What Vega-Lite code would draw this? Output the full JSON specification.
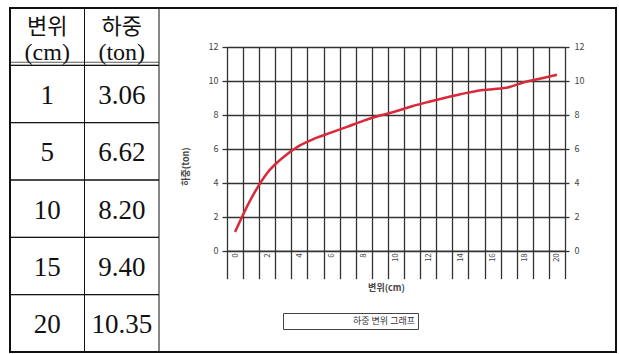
{
  "$schema": "https://vega.github.io/schema/vega-lite/v6.json",
  "width": 606,
  "height": 344,
  "autosize": "none",
  "padding": {"left": 10, "top": 8, "right": 3, "bottom": 2},
  "background": "white",
  "config": {
    "view": {"stroke": "#111", "strokeWidth": 2},
    "axis": {"labelFont": "Noto Sans CJK KR", "titleFont": "Noto Sans CJK KR"},
    "legend": {"labelFont": "Noto Sans CJK KR"}
  },
  "layer": [
    {
      "data": {"values": [
        {"r": "h", "c": "a", "t": "변위", "u": "(cm)"},
        {"r": "h", "c": "b", "t": "하중", "u": "(ton)"},
        {"r": "1", "c": "a", "t": "1"}, {"r": "1", "c": "b", "t": "3.06"},
        {"r": "5", "c": "a", "t": "5"}, {"r": "5", "c": "b", "t": "6.62"},
        {"r": "10", "c": "a", "t": "10"}, {"r": "10", "c": "b", "t": "8.20"},
        {"r": "15", "c": "a", "t": "15"}, {"r": "15", "c": "b", "t": "9.40"},
        {"r": "20", "c": "a", "t": "20"}, {"r": "20", "c": "b", "t": "10.35"}
      ]},
      "encoding": {
        "x": {"field": "c", "type": "nominal", "axis": null,
              "scale": {"type": "band", "domain": ["a", "b"], "range": [0, 149], "paddingInner": 0, "paddingOuter": 0}},
        "y": {"field": "r", "type": "nominal", "axis": null,
              "scale": {"type": "band", "domain": ["h", "1", "5", "10", "15", "20"], "range": [0, 344], "paddingInner": 0, "paddingOuter": 0}}
      },
      "layer": [
        {"mark": {"type": "rect", "fill": "white", "fillOpacity": 0, "stroke": "#111", "strokeWidth": 1}},
        {"transform": [{"filter": "datum.r === 'h'"}],
         "mark": {"type": "tick", "orient": "horizontal", "color": "#111", "thickness": 1, "size": 74.5, "yOffset": -3},
         "encoding": {"y": {"field": "r", "type": "nominal", "bandPosition": 1}}},
        {"transform": [{"filter": "datum.r !== 'h'"}],
         "mark": {"type": "text", "font": "Liberation Serif", "fontSize": 27, "color": "#111", "dy": 2},
         "encoding": {"text": {"field": "t"}}},
        {"transform": [{"filter": "datum.r === 'h'"}],
         "mark": {"type": "text", "font": "Noto Sans CJK KR", "fontSize": 22, "color": "#111", "dy": -10},
         "encoding": {"text": {"field": "t"}}},
        {"transform": [{"filter": "datum.r === 'h'"}],
         "mark": {"type": "text", "font": "Liberation Serif", "fontSize": 24, "color": "#111", "dy": 16},
         "encoding": {"text": {"field": "u"}}}
      ]
    },
    {
      "data": {"values": [
        {"d": 0, "w": 1.1}, {"d": 1, "w": 3.06}, {"d": 2, "w": 4.57}, {"d": 3, "w": 5.5},
        {"d": 4, "w": 6.18}, {"d": 5, "w": 6.62}, {"d": 6, "w": 6.96}, {"d": 7, "w": 7.3},
        {"d": 8, "w": 7.65}, {"d": 9, "w": 7.95}, {"d": 10, "w": 8.2}, {"d": 11, "w": 8.5},
        {"d": 12, "w": 8.75}, {"d": 13, "w": 8.98}, {"d": 14, "w": 9.2}, {"d": 15, "w": 9.4},
        {"d": 16, "w": 9.5}, {"d": 17, "w": 9.62}, {"d": 18, "w": 9.92}, {"d": 19, "w": 10.13},
        {"d": 20, "w": 10.35}
      ]},
      "encoding": {
        "x": {"field": "d", "type": "quantitative",
              "scale": {"domain": [-0.5, 20.5], "range": [217, 555], "nice": false, "zero": false}},
        "y": {"field": "w", "type": "quantitative",
              "scale": {"domain": [0, 12], "range": [242.7, 38.7], "nice": false, "zero": false}}
      },
      "layer": [
        {"mark": {"type": "line", "strokeWidth": 2.5, "interpolate": "monotone"},
         "encoding": {
           "x": {"field": "d", "type": "quantitative",
                 "axis": {
                   "orient": "bottom",
                   "values": [-0.5, 0.5, 1.5, 2.5, 3.5, 4.5, 5.5, 6.5, 7.5, 8.5, 9.5, 10.5, 11.5, 12.5, 13.5, 14.5, 15.5, 16.5, 17.5, 18.5, 19.5, 20.5],
                   "offset": -101.3,
                   "grid": false,
                   "domainColor": "#333", "tickColor": "#333", "tickSize": 28, "tickWidth": 1.3,
                   "labelExpr": "(datum.value + 0.5) % 2 === 0 ? format(datum.value + 0.5, 'd') : ''",
                   "labelOffset": 8, "labelAngle": -90, "labelPadding": -26, "labelFontSize": 8,
                   "labelColor": "#444", "labelOverlap": false, "labelFlush": false, "labelBound": false,
                   "title": "변위(cm)", "titleFontSize": 9, "titleFontWeight": "bold", "titleColor": "#444",
                   "titlePadding": 4, "titleX": 376
                 }},
           "color": {"datum": "하중 변위 그래프", "scale": {"range": ["#d82a3a"]},
                     "legend": {"orient": "none", "legendX": 273, "legendY": 305, "title": null,
                                "symbolType": "M-1,-0.04H1V0.04H-1Z", "symbolSize": 38416,
                                "symbolOpacity": 0, "symbolStrokeWidth": 0, "clipHeight": 10,
                                "labelFontSize": 9, "labelColor": "#333", "labelAlign": "right",
                                "labelOffset": -67, "labelLimit": 400,
                                "strokeColor": "#444", "padding": 3, "fillColor": "white"}},
           "y": {"field": "w", "type": "quantitative",
                 "axis": {"orient": "left", "offset": -217, "values": [0, 2, 4, 6, 8, 10, 12],
                          "grid": true, "gridColor": "#333", "gridWidth": 1.3,
                          "domainColor": "#333", "tickColor": "#333", "tickSize": 5, "tickWidth": 1.3,
                          "labelFontSize": 9, "labelColor": "#444", "labelPadding": 4,
                          "title": "하중(ton)", "titleFontSize": 9, "titleColor": "#444",
                          "titlePadding": 18, "titleY": 158}}
         }},
        {"mark": {"type": "point", "opacity": 0},
         "encoding": {
           "x": {"field": "d", "type": "quantitative",
                 "axis": {
                   "orient": "top",
                   "values": [-0.5, 0.5, 1.5, 2.5, 3.5, 4.5, 5.5, 6.5, 7.5, 8.5, 9.5, 10.5, 11.5, 12.5, 13.5, 14.5, 15.5, 16.5, 17.5, 18.5, 19.5, 20.5],
                   "offset": -38.7, "grid": false, "domain": false, "labels": false, "title": null,
                   "tickColor": "#333", "tickSize": -204, "tickWidth": 1.3
                 }},
           "y": {"field": "w", "type": "quantitative",
                 "axis": {"orient": "right", "offset": -51, "values": [0, 2, 4, 6, 8, 10, 12],
                          "grid": false, "domainColor": "#333", "tickColor": "#333", "tickSize": 4, "tickWidth": 1.3,
                          "labelFontSize": 9, "labelColor": "#444", "labelPadding": 5, "title": null}}
         }}
      ],
      "resolve": {"axis": {"x": "independent", "y": "independent"}}
    }
  ],
  "resolve": {"scale": {"x": "independent", "y": "independent"}}
}
